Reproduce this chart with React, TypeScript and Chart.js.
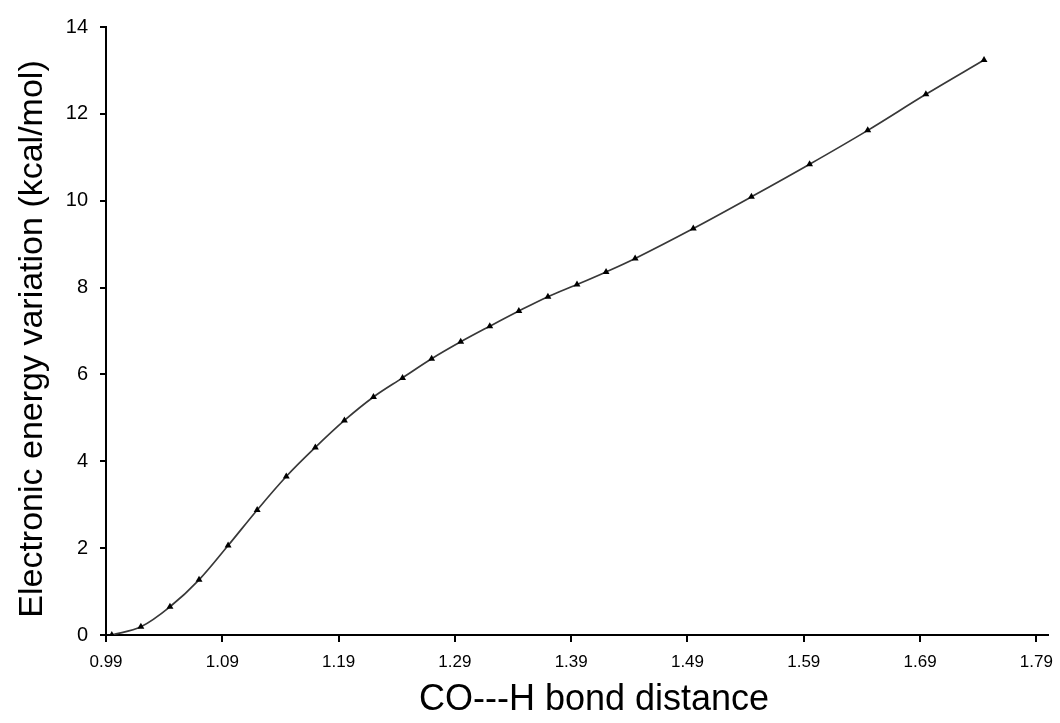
import React, { useEffect, useRef } from "react";
import { Chart, registerables } from "chart.js";

Chart.register(...registerables);

// Data
const bondDistance: number[] = [
  0.995, 1.02, 1.045, 1.07, 1.095, 1.12, 1.145, 1.17, 1.195, 1.22, 1.245, 1.27, 1.295,
  1.32, 1.345, 1.37, 1.395, 1.42, 1.445, 1.495, 1.545, 1.595, 1.645, 1.695, 1.745,
];
const energyVariation: number[] = [
  0, 0.19, 0.65, 1.27, 2.06, 2.88, 3.65, 4.32, 4.94, 5.48, 5.92, 6.36, 6.75,
  7.11, 7.46, 7.79, 8.07, 8.36, 8.67, 9.36, 10.09, 10.84, 11.62, 12.45, 13.24,
];
const xTickValues: number[] = [0.99, 1.09, 1.19, 1.29, 1.39, 1.49, 1.59, 1.69, 1.79];
const xTitle = "CO---H bond distance";
const yTitle = "Electronic energy variation (kcal/mol)";

const FONT = "'Liberation Sans', Arial, Helvetica, sans-serif";

// Nudges the axis titles a little, the way the reference places them
const titleShift = {
  id: "titleShift",
  beforeDraw(chart: any) {
    const shifts: Record<string, [number, number]> = { x: [17, 2], y: [0, 8] };
    Object.keys(shifts).forEach((id) => {
      const s = chart.scales[id];
      if (!s || s.__shifted) return;
      const orig = s.drawTitle.bind(s);
      const [dx, dy] = shifts[id];
      s.drawTitle = function () {
        chart.ctx.save();
        chart.ctx.translate(dx, dy);
        orig();
        chart.ctx.restore();
      };
      s.__shifted = true;
    });
  },
};

export default function App() {
  const canvasRef = useRef<HTMLCanvasElement | null>(null);

  useEffect(() => {
    const canvas = canvasRef.current;
    if (!canvas) return;
    const points = bondDistance.map((x, i) => ({ x, y: energyVariation[i] }));
    const chart = new Chart(canvas, {
      type: "line",
      data: {
        datasets: [
          {
            data: points,
            borderColor: "#383838",
            borderWidth: 1.7,
            backgroundColor: "#000",
            pointStyle: "triangle",
            pointRadius: 4,
            pointBorderWidth: 0,
            pointBackgroundColor: "#000",
            tension: 0.35,
            fill: false,
          },
        ],
      },
      plugins: [titleShift],
      options: {
        animation: false,
        responsive: false,
        maintainAspectRatio: false,
        layout: { padding: { top: 27, right: 12, bottom: 0, left: 0 } },
        plugins: {
          legend: { display: false },
          tooltip: { enabled: false },
        },
        scales: {
          x: {
            type: "linear",
            min: 0.99,
            max: 1.8,
            afterBuildTicks: (scale: any) => {
              scale.ticks = xTickValues.map((v) => ({ value: v }));
            },
            afterFit: (scale: any) => {
              scale.height = 88;
              scale.paddingLeft = 0;
              scale.paddingRight = 0;
            },
            ticks: {
              color: "#000",
              font: { family: FONT, size: 17 },
              padding: 10,
              maxRotation: 0,
              autoSkip: false,
              callback: (v: any) => Number(v).toFixed(2),
            },
            grid: {
              drawOnChartArea: false,
              drawTicks: true,
              tickLength: 7,
              color: "#000",
              lineWidth: 2,
            },
            border: { display: true, color: "#000", width: 2 },
            title: {
              display: true,
              text: xTitle,
              color: "#000",
              font: { family: FONT, size: 36, lineHeight: 1.2 },
              padding: { top: 0, bottom: 3 },
            },
          },
          y: {
            type: "linear",
            min: 0,
            max: 14,
            afterFit: (scale: any) => {
              scale.width = 106;
            },
            ticks: {
              stepSize: 2,
              color: "#000",
              font: { family: FONT, size: 20 },
              padding: 12,
            },
            grid: {
              drawOnChartArea: false,
              drawTicks: true,
              tickLength: 6,
              color: "#000",
              lineWidth: 2,
            },
            border: { display: true, color: "#000", width: 2 },
            title: {
              display: true,
              text: yTitle,
              color: "#000",
              font: { family: FONT, size: 34, lineHeight: 1.2 },
              padding: { top: 12, bottom: 0 },
            },
          },
        },
      },
    });
    return () => chart.destroy();
  }, []);

  return (
    <div style={{ position: "fixed", left: 0, top: 0, width: 1060, height: 723, background: "#fff" }}>
      <canvas ref={canvasRef} width={1060} height={723} style={{ display: "block" }} />
    </div>
  );
}
